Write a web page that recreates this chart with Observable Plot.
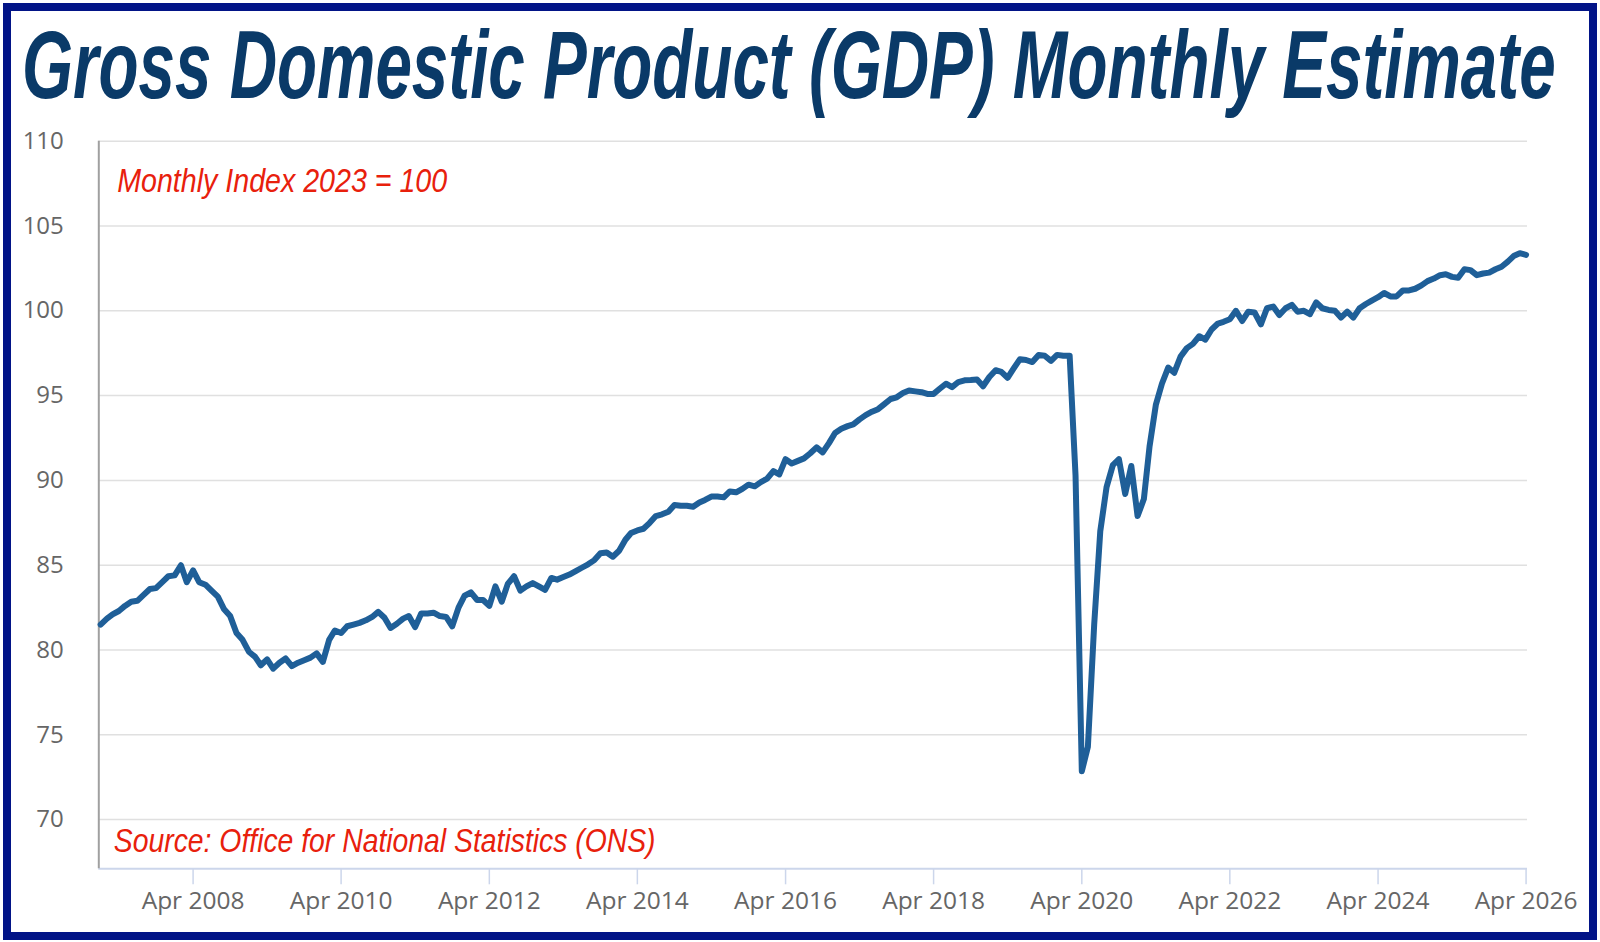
<!DOCTYPE html>
<html>
<head>
<meta charset="utf-8">
<script src="https://cdn.jsdelivr.net/npm/d3@7"></script>
<script src="https://cdn.jsdelivr.net/npm/@observablehq/plot@0.6"></script>
<style>
  html, body { margin: 0; padding: 0; background: #fff; }
  #wrap { position: relative; width: 1600px; height: 942px; overflow: hidden; background: #fff; }
  #frame { position: absolute; left: 3px; top: 3px; width: 1578px; height: 921px; border: 8px solid #021487; pointer-events: none; }
  #title { position: absolute; left: 0; top: 0; }
  #chart { position: absolute; left: 0; top: 120px; }
</style>
</head>
<body>
<div id="wrap">
  <div id="chart"></div>
  <svg id="title" width="1600" height="140">
    <text id="titleText" x="0" y="0" transform="translate(22,98)" font-family="'Liberation Sans', Arial, sans-serif" font-weight="bold" font-style="italic" font-size="96" fill="#0a3a68">Gross Domestic Product (GDP) Monthly Estimate</text>
  </svg>
  <div id="frame"></div>
</div>
<script>
// ---- Data (monthly index, 2023 = 100) ----
const gdp2007 = [81.5, 81.85, 82.1, 82.3, 82.6, 82.85, 82.9, 83.25, 83.6, 83.65, 84.0, 84.35];
const gdp2008 = [84.4, 85.0, 84.0, 84.7, 84.0, 83.85, 83.5, 83.15, 82.4, 82.0, 81.0, 80.6];
const gdp2009 = [79.9, 79.6, 79.1, 79.45, 78.9, 79.25, 79.5, 79.05, 79.25, 79.4, 79.55, 79.8];
const gdp2010 = [79.3, 80.6, 81.15, 81.0, 81.4, 81.5, 81.6, 81.75, 81.95, 82.25, 81.9, 81.3];
const gdp2011 = [81.55, 81.85, 82.0, 81.35, 82.15, 82.15, 82.2, 82.0, 81.95, 81.4, 82.5, 83.2];
const gdp2012 = [83.4, 82.95, 82.95, 82.6, 83.75, 82.85, 83.9, 84.35, 83.5, 83.75, 83.95, 83.75];
const gdp2013 = [83.55, 84.25, 84.15, 84.3, 84.45, 84.65, 84.85, 85.05, 85.3, 85.7, 85.75, 85.5];
const gdp2014 = [85.85, 86.5, 86.9, 87.05, 87.15, 87.5, 87.9, 88.0, 88.15, 88.55, 88.5, 88.5];
const gdp2015 = [88.45, 88.7, 88.85, 89.05, 89.05, 89.0, 89.35, 89.3, 89.5, 89.75, 89.65, 89.9];
const gdp2016 = [90.1, 90.55, 90.35, 91.25, 91.0, 91.15, 91.3, 91.6, 91.95, 91.65, 92.2, 92.8];
const gdp2017 = [93.05, 93.2, 93.3, 93.6, 93.85, 94.05, 94.2, 94.5, 94.8, 94.9, 95.15, 95.3];
const gdp2018 = [95.25, 95.2, 95.1, 95.1, 95.4, 95.7, 95.5, 95.8, 95.9, 95.92, 95.95, 95.55];
const gdp2019 = [96.1, 96.5, 96.4, 96.05, 96.6, 97.15, 97.1, 96.98, 97.4, 97.35, 97.05, 97.4];
const gdp2020 = [97.35, 97.35, 90.3, 72.85, 74.3, 81.5, 87.0, 89.6, 90.9, 91.25, 89.2, 90.85];
const gdp2021 = [87.9, 88.9, 92.0, 94.45, 95.7, 96.65, 96.35, 97.3, 97.8, 98.05, 98.5, 98.3];
const gdp2022 = [98.9, 99.25, 99.35, 99.5, 100.0, 99.4, 99.95, 99.9, 99.2, 100.15, 100.25, 99.75];
const gdp2023 = [100.15, 100.35, 99.95, 100.0, 99.8, 100.5, 100.15, 100.05, 100.0, 99.6, 99.95, 99.6];
const gdp2024 = [100.15, 100.4, 100.6, 100.8, 101.05, 100.85, 100.85, 101.2, 101.2, 101.3, 101.5, 101.75];
const gdp2025 = [101.9, 102.1, 102.15, 102.0, 101.95, 102.45, 102.4, 102.1, 102.2, 102.25, 102.45, 102.6];
const gdp2026 = [102.9, 103.25, 103.4, 103.3];

const yTicks = [70, 75, 80, 85, 90, 95, 100, 105, 110];
const xTickYears = [2008, 2010, 2012, 2014, 2016, 2018, 2020, 2022, 2024, 2026];
const subtitle = "Monthly Index 2023 = 100";
const source = "Source: Office for National Statistics (ONS)";

// ---- Build table ----
const values = [].concat(gdp2007, gdp2008, gdp2009, gdp2010, gdp2011, gdp2012, gdp2013,
  gdp2014, gdp2015, gdp2016, gdp2017, gdp2018, gdp2019, gdp2020, gdp2021, gdp2022,
  gdp2023, gdp2024, gdp2025, gdp2026);
const months = d3.utcMonth.range(new Date(Date.UTC(2007, 0, 1)), new Date(Date.UTC(2026, 4, 1)));
const data = values.map((v, i) => ({date: months[i], value: v}));
const xTicks = xTickYears.map(y => new Date(Date.UTC(y, 3, 1)));

const xDomain = [new Date(Date.UTC(2006, 11, 23)), new Date(Date.UTC(2026, 3, 8))];
const yDomain = [67.1, 110];

const H = 822;
const chart = Plot.plot({
  width: 1600,
  height: H,
  marginTop: 20.7,
  marginBottom: H - 748.3,
  marginLeft: 98.3,
  marginRight: 73,
  style: {fontFamily: "'Open Sans', sans-serif", fontSize: "24px", color: "#666", background: "transparent"},
  x: {type: "utc", domain: xDomain, label: null},
  y: {domain: yDomain, label: null},
  marks: [
    Plot.gridY(yTicks, {stroke: "#e0e0e0", strokeOpacity: 1, strokeWidth: 1.5}),
    Plot.ruleY([yDomain[0]], {stroke: "#ccd6eb", strokeWidth: 2}),
    Plot.ruleX([xDomain[0]], {stroke: "#a0a0a0", strokeWidth: 2}),
    Plot.axisX(xTicks, {tickSize: 16, tickFormat: () => "", stroke: "#ccd6eb", strokeWidth: 1.5}),
    Plot.axisX(xTicks, {tickSize: 0, tickPadding: 22.4, tickFormat: d3.utcFormat("%b %Y"), color: "#666", fontSize: 24.5, fontFamily: "'Open Sans', sans-serif"}),
    Plot.axisY(yTicks, {tickSize: 0, tickPadding: 35, color: "#666", fontSize: 24, fontFamily: "'Open Sans', sans-serif"}),
    Plot.lineY(data, {x: "date", y: "value", stroke: "#1f5f98", strokeWidth: 6, strokeLinejoin: "round", strokeLinecap: "round"}),
    Plot.text([subtitle], {frameAnchor: "top-left", textAnchor: "start", lineAnchor: "bottom", dx: 18.4, dy: 51, fontSize: 33, fontStyle: "italic", fontFamily: "'Liberation Sans', Arial, sans-serif", fill: "#e8200c"}),
    Plot.text([source], {frameAnchor: "bottom-left", textAnchor: "start", lineAnchor: "bottom", dx: 15, dy: -16.6, fontSize: 33, fontStyle: "italic", fontFamily: "'Liberation Sans', Arial, sans-serif", fill: "#e8200c"})
  ]
});
document.getElementById("chart").appendChild(chart);

// condense a text horizontally (keeping its left edge) to a target width
function condense(el, target) {
  const w = el.getComputedTextLength();
  if (!w) return;
  const s = target / w;
  const x = +el.getAttribute("x") || 0;
  const prev = el.getAttribute("transform") || "";
  el.setAttribute("transform", `${prev} translate(${x},0) scale(${s},1) translate(${-x},0)`);
}
condense(document.getElementById("titleText"), 1534);
d3.select(chart).selectAll("text").each(function() {
  const t = this.textContent;
  if (t === subtitle) condense(this, 330);
  if (t === source) condense(this, 542);
});
</script>
</body>
</html>
